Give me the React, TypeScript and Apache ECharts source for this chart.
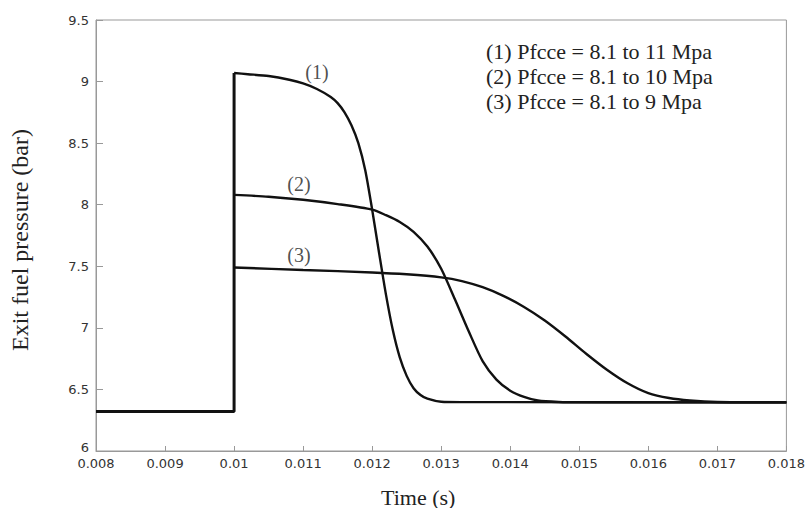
import React, { useEffect, useRef } from "react";
import * as echarts from "echarts";

const stepTime = [0.008, 0.01, 0.01];
const stepValue = [6.32, 6.32, 9.07];

const curve1Time = [0.01, 0.0102, 0.0105, 0.0108, 0.011, 0.0112, 0.0114, 0.0115, 0.0116, 0.0117, 0.0118, 0.0119, 0.012, 0.0121, 0.0122, 0.0123, 0.0124, 0.0125, 0.0126, 0.0127, 0.0128, 0.013, 0.0133, 0.018];
const curve1Value = [9.07, 9.06, 9.045, 9.015, 8.985, 8.94, 8.875, 8.825, 8.75, 8.645, 8.5, 8.28, 7.96, 7.61, 7.27, 6.98, 6.76, 6.61, 6.51, 6.455, 6.425, 6.4, 6.397, 6.395];

const curve2Time = [0.01, 0.0105, 0.011, 0.0115, 0.012, 0.0122, 0.0124, 0.0126, 0.0128, 0.013, 0.0132, 0.0134, 0.0136, 0.0138, 0.014, 0.0142, 0.0144, 0.0147, 0.015, 0.018];
const curve2Value = [8.08, 8.065, 8.04, 8.005, 7.96, 7.915, 7.86, 7.78, 7.66, 7.48, 7.23, 6.97, 6.73, 6.58, 6.49, 6.44, 6.41, 6.398, 6.395, 6.395];

const curve3Time = [0.01, 0.011, 0.012, 0.0125, 0.013, 0.0133, 0.0136, 0.0139, 0.0142, 0.0145, 0.0148, 0.0151, 0.0154, 0.0157, 0.016, 0.0163, 0.0166, 0.017, 0.018];
const curve3Value = [7.49, 7.47, 7.45, 7.435, 7.41, 7.38, 7.33, 7.26, 7.17, 7.06, 6.93, 6.79, 6.66, 6.55, 6.47, 6.43, 6.41, 6.398, 6.395];

const labelText = ["(1)", "(2)", "(3)"];
const labelTime = [0.0112, 0.01094, 0.01094];
const labelValue = [9.08, 8.17, 7.59];

const legendLines = [
  "(1) Pfcce = 8.1 to 11 Mpa",
  "(2) Pfcce = 8.1 to 10 Mpa",
  "(3) Pfcce = 8.1 to 9 Mpa",
];

const xTitle = "Time (s)";
const yTitle = "Exit fuel pressure (bar)";

const xTicks = [0.008, 0.009, 0.01, 0.011, 0.012, 0.013, 0.014, 0.015, 0.016, 0.017, 0.018];

const zip = (a: number[], b: number[]) => a.map((v, i) => [v, b[i]]);

export default function App() {
  const ref = useRef<HTMLDivElement>(null);
  useEffect(() => {
    if (!ref.current) return;
    const chart = echarts.init(ref.current, undefined, { renderer: "svg" });
    const lineStyle = { color: "#111", width: 2.4 };
    const curve = (t: number[], v: number[]) => ({
      type: "line",
      data: zip(t, v),
      showSymbol: false,
      symbol: "none",
      smooth: 0.25,
      lineStyle,
      z: 3,
    });
    const serif = { fontFamily: "Liberation Serif", fontWeight: "normal", color: "#222" };
    chart.setOption({
      animation: false,
      backgroundColor: "#fff",
      title: [
        {
          text: legendLines.join("\n"),
          left: 486,
          top: 39,
          padding: 0,
          textStyle: { ...serif, fontSize: 22, lineHeight: 25 },
        },
        {
          text: xTitle,
          left: 381,
          top: 486,
          padding: 0,
          textStyle: { ...serif, fontSize: 22 },
        },
      ],
      grid: {
        left: 93,
        right: 21,
        top: 20,
        bottom: 57,
        show: true,
        borderColor: "#999",
        borderWidth: 1,
        backgroundColor: "transparent",
      },
      xAxis: {
        type: "value",
        min: 0.008,
        max: 0.018,
        interval: 0.001,
        axisLine: { show: true, lineStyle: { color: "#999", width: 1 } },
        axisTick: { show: true, inside: true, length: 5, lineStyle: { color: "#999" } },
        splitLine: { show: false },
        axisLabel: {
          margin: 6,
          fontFamily: "DejaVu Sans",
          fontSize: 13,
          color: "#333",
          formatter: (v: number) => {
            const m = xTicks.find((t) => Math.abs(t - v) < 1e-9);
            return m === undefined ? "" : String(Number(m.toFixed(3)));
          },
        },
      },
      yAxis: {
        type: "value",
        min: 6,
        max: 9.5,
        interval: 0.5,
        name: yTitle,
        nameLocation: "middle",
        nameGap: 64,
        nameTextStyle: { ...serif, fontSize: 24, padding: [0, 0, 0, -9] },
        axisLine: { show: true, lineStyle: { color: "#999", width: 1 } },
        axisTick: { show: true, inside: true, length: 7, lineStyle: { color: "#999" } },
        splitLine: { show: false },
        axisLabel: {
          margin: 7,
          fontFamily: "DejaVu Sans",
          fontSize: 13,
          color: "#333",
          formatter: (v: number) => (Math.abs(v - 6) < 1e-9 ? "{b|6}" : String(v)),
          rich: {
            b: { fontFamily: "DejaVu Sans", fontSize: 13, color: "#333", padding: [0, 0, 8, 0] },
          },
        },
      },
      series: [
        {
          type: "line",
          data: zip(stepTime, stepValue),
          showSymbol: false,
          symbol: "none",
          lineStyle: { color: "#111", width: 3 },
          z: 4,
        },
        curve(curve1Time, curve1Value),
        curve(curve2Time, curve2Value),
        curve(curve3Time, curve3Value),
        {
          type: "scatter",
          data: labelText.map((t, i) => ({ value: [labelTime[i], labelValue[i]], name: t })),
          symbolSize: 0,
          label: {
            show: true,
            position: "inside",
            formatter: (p: any) => p.name,
            fontFamily: "Liberation Serif",
            fontSize: 20,
            color: "#222",
          },
          z: 5,
        },
      ],
    });
    return () => chart.dispose();
  }, []);
  return (
    <div
      ref={ref}
      style={{ position: "fixed", left: 0, top: 0, width: 808, height: 508 }}
    />
  );
}
